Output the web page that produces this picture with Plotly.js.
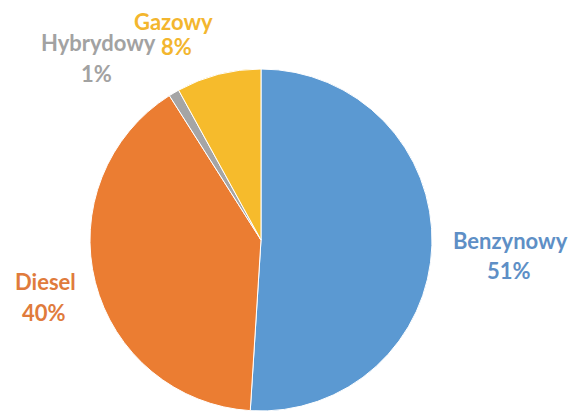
<!DOCTYPE html>
<html>
<head>
<meta charset="utf-8">
<script src="https://cdn.plot.ly/plotly-3.0.1.min.js"></script>
<style>html,body{margin:0;padding:0;background:#fff;}#chart{width:582px;height:415px;}</style>
</head>
<body>
<div id="chart"></div>
<script>
// Data
const labels = ["Benzynowy", "Diesel", "Hybrydowy", "Gazowy"];
const values = [51, 40, 1, 8];

// Styles
const sliceColors = ["#5B99D2", "#EB7D32", "#A5A5A5", "#F6BB2C"];
const textColors = ["#5E8FC6", "#E07B3C", "#A2A2A2", "#F3B62E"];
// label placement (pixel centers: [name line], [percent line])
const labelPos = [
  {nx: 510, ny: 240, px: 509, py: 270},
  {nx: 45,  ny: 281, px: 44,  py: 312},
  {nx: 98,  ny: 43,  px: 96,  py: 74},
  {nx: 173, ny: 21,  px: 177, py: 47}
];
const W = 582, H = 415;
const cx = 261, cy = 240, r = 171;

const annotations = [];
labels.forEach((lab, i) => {
  const p = labelPos[i];
  const font = {family: "Lato, 'Open Sans', sans-serif", size: 22, color: textColors[i], weight: 700};
  annotations.push({text: lab, x: p.nx / W, y: 1 - p.ny / H, xref: "paper", yref: "paper",
    xanchor: "center", yanchor: "middle", showarrow: false, borderpad: 0, font: font});
  annotations.push({text: values[i] + "%", x: p.px / W, y: 1 - p.py / H, xref: "paper", yref: "paper",
    xanchor: "center", yanchor: "middle", showarrow: false, borderpad: 0, font: font});
});

const trace = {
  type: "pie",
  labels: labels,
  values: values,
  sort: false,
  direction: "clockwise",
  rotation: 0,
  textinfo: "none",
  hoverinfo: "label+percent",
  marker: {colors: sliceColors, line: {color: "#ffffff", width: 1}},
  domain: {x: [(cx - r) / W, (cx + r) / W], y: [(H - cy - r) / H, (H - cy + r) / H]},
  showlegend: false
};

const layout = {
  width: W, height: H,
  margin: {l: 0, r: 0, t: 0, b: 0},
  paper_bgcolor: "#ffffff",
  plot_bgcolor: "#ffffff",
  showlegend: false,
  annotations: annotations
};

Plotly.newPlot("chart", [trace], layout, {displayModeBar: false, staticPlot: true});
</script>
</body>
</html>
